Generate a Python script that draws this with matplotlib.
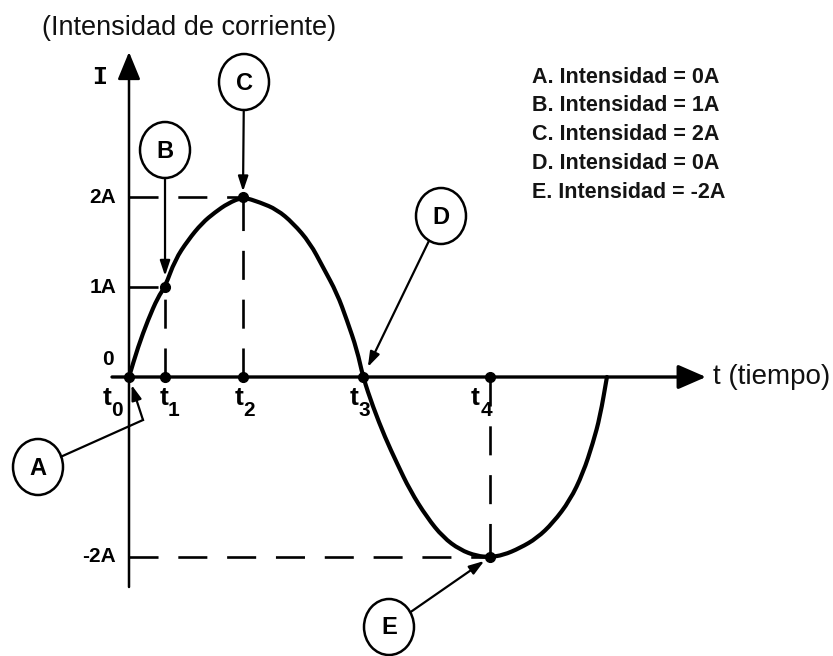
import matplotlib
matplotlib.use("Agg")
import matplotlib.pyplot as plt
import matplotlib.font_manager as fm
from matplotlib.path import Path
from matplotlib.patches import PathPatch, Ellipse
import numpy as np

# ---------------- data ----------------
curve_t = [0.0, 0.077, 0.162, 0.248, 0.308, 0.393, 0.504, 0.624, 0.735, 0.846,
           0.974, 1.120, 1.265, 1.402, 1.547, 1.658, 1.778, 1.863, 1.949, 2.0,
           2.085, 2.188, 2.291, 2.402, 2.547, 2.684, 2.829, 2.974, 3.085, 3.197,
           3.342, 3.487, 3.624, 3.769, 3.880, 3.966, 4.026, 4.085]
curve_i = [0.0, 0.333, 0.633, 0.889, 1.0, 1.30, 1.52, 1.71, 1.83, 1.93,
           2.0, 1.94, 1.86, 1.71, 1.49, 1.22, 0.93, 0.63, 0.30, 0.0,
           -0.33, -0.67, -0.96, -1.26, -1.56, -1.78, -1.92, -1.99, -2.0, -1.98,
           -1.90, -1.79, -1.62, -1.37, -1.07, -0.73, -0.44, 0.0]

point_names = ["A", "B", "C", "D", "E"]
point_t = [0.0, 0.308, 0.974, 2.0, 3.085]     # t0 .. t4
point_i = [0.0, 1.0, 2.0, 0.0, -2.0]
time_subscripts = ["0", "1", "2", "3", "4"]

ytick_vals = [2, 1, 0, -2]
ytick_labels = ["2A", "1A", "0", "-2A"]

legend_lines = ["A. Intensidad = 0A",
                "B. Intensidad = 1A",
                "C. Intensidad = 2A",
                "D. Intensidad = 0A",
                "E. Intensidad = -2A"]

title_text = "(Intensidad de corriente)"
x_label = "t (tiempo)"
y_label = "I"

# ---------------- layout helpers ----------------
W, H = 833, 656
X0, SX = 129.0, 117.0      # pixel x of t=0, pixels per time unit
Y0, SY = 377.0, 90.0       # pixel y of I=0, pixels per ampere


def d(px, py):
    """pixel (from top-left) -> data"""
    return ((px - X0) / SX, (Y0 - py) / SY)


def p(t, i):
    """data -> pixel (from top-left)"""
    return (X0 + t * SX, Y0 - i * SY)


names = {f.name for f in fm.fontManager.ttflist}
NARROW = "Liberation Sans Narrow" in names
SANS = "Liberation Sans" if "Liberation Sans" in names else "DejaVu Sans"
NFAM = "Liberation Sans Narrow" if NARROW else SANS
MONO = "Liberation Mono" if "Liberation Mono" in names else "DejaVu Sans Mono"

fig = plt.figure(figsize=(W / 100, H / 100), dpi=100)
ax = fig.add_axes([0, 0, 1, 1])
ax.set_xlim(d(0, 0)[0], d(W, 0)[0])
ax.set_ylim(d(0, H)[1], d(0, 0)[1])
ax.axis("off")
K = "black"

# ---------------- axes ----------------
ax.annotate("", xy=d(706, Y0), xytext=d(112, Y0),
            arrowprops=dict(arrowstyle="-|>,head_length=0.85,head_width=0.37",
                            mutation_scale=20, lw=2.4, color=K,
                            shrinkA=0, shrinkB=0))
ax.annotate("", xy=d(X0, 52), xytext=d(X0, 587),
            arrowprops=dict(arrowstyle="-|>,head_length=0.85,head_width=0.35",
                            mutation_scale=20, lw=1.8, color=K,
                            shrinkA=0, shrinkB=0))

# ---------------- dashed guide lines ----------------
dash = (0, (11, 7.5))
for t, i in zip(point_t, point_i):
    if i != 0:
        ax.plot([0, t], [i, i], color=K, lw=1.9, linestyle=dash)
        ax.plot([t, t], [0, i], color=K, lw=1.9, linestyle=dash)

# ---------------- curve (smooth path through read points) ----------------
pts = np.column_stack([curve_t, curve_i])
verts = [pts[0], (pts[0] + pts[1]) / 2]
codes = [Path.MOVETO, Path.LINETO]
for k in range(1, len(pts) - 1):
    verts += [pts[k], (pts[k] + pts[k + 1]) / 2]
    codes += [Path.CURVE3, Path.CURVE3]
verts.append(pts[-1])
codes.append(Path.LINETO)
ax.add_patch(PathPatch(Path(verts, codes), fill=False, lw=3.0, color=K,
                       capstyle="round", joinstyle="round", zorder=3))

# ---------------- dots ----------------
ax.plot(point_t, [0] * len(point_t), "o", color=K, ms=7, zorder=4)
ax.plot([t for t, i in zip(point_t, point_i) if i != 0],
        [i for i in point_i if i != 0], "o", color=K, ms=7, zorder=4)

# ---------------- tick labels ----------------
for v, lab in zip(ytick_vals, ytick_labels):
    px_, py_ = p(0, v)
    if v == 0:
        ax.text(*d(114, py_ - 18), lab, ha="right", va="center",
                fontsize=15, fontweight="bold", family=SANS, color=K)
    else:
        ax.text(*d(116, py_), lab, ha="right", va="center",
                fontsize=15, fontweight="bold", family=SANS, color=K)

t_dx = [-22, -1, -4, -9, -15]
s_dx = [-12, 8, 6, 1, -4]
for t, sub, a, b in zip(point_t, time_subscripts, t_dx, s_dx):
    px_, _ = p(t, 0)
    ax.text(*d(px_ + a, 398), "t", ha="center", va="center",
            fontsize=19, fontweight="bold", family=SANS, color=K)
    ax.text(*d(px_ + b, 410), sub, ha="center", va="center",
            fontsize=15 if not NARROW else 16.5, fontweight="bold",
            family=NFAM, color=K)

# ---------------- axis labels / title ----------------
ax.text(*d(42, 28), title_text, ha="left", va="center", fontsize=19.5,
        family=SANS, color="#111111")
ax.text(*d(713, Y0), x_label, ha="left", va="center", fontsize=20,
        family=SANS, color="#111111")
ax.text(*d(100, 77), y_label, ha="center", va="center", fontsize=18,
        fontweight="bold", family=MONO, color=K)

# ---------------- legend text ----------------
for k, line in enumerate(legend_lines):
    ax.text(*d(532, 77 + 28.75 * k), line, ha="left", va="center",
            fontsize=18 if NARROW else 15.5, fontweight="bold", family=NFAM,
            color="#141414")

# ---------------- callout circles ----------------
circle_px = {"A": (38, 467), "B": (165, 150), "C": (244, 82),
             "D": (441, 216), "E": (389, 627)}
shrink_pt = {"A": 6, "B": 8, "C": 4, "D": 8, "E": 5}
EW, EH = 50, 56


def edge(c, target):
    dx, dy = target[0] - c[0], target[1] - c[1]
    s = 1.0 / np.sqrt((dx / (EW / 2)) ** 2 + (dy / (EH / 2)) ** 2)
    return (c[0] + s * dx, c[1] + s * dy)


for name, t, i in zip(point_names, point_t, point_i):
    c = circle_px[name]
    ax.add_patch(Ellipse(d(*c), EW / SX, EH / SY, fill=False, lw=1.8,
                         edgecolor=K, zorder=3))
    ax.text(*d(c[0], c[1] + 1), name, ha="center", va="center", fontsize=17,
            fontweight="bold", family=SANS, color=K)
    tgt = p(t, i)
    if name == "A":
        kink = (143, 420)
        st = edge(c, kink)
        ax.plot([d(*st)[0], d(*kink)[0]], [d(*st)[1], d(*kink)[1]],
                color=K, lw=1.6)
        start = kink
    else:
        start = edge(c, tgt)
    ax.annotate("", xy=(t, i), xytext=d(*start),
                arrowprops=dict(arrowstyle="-|>,head_length=0.9,head_width=0.3",
                                mutation_scale=10, lw=1.6, color=K,
                                shrinkA=0, shrinkB=shrink_pt[name]))

fig.savefig("out.png", dpi=100)
